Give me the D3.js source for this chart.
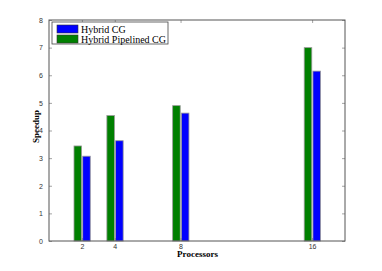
<!DOCTYPE html>
<html>
<head>
<meta charset="utf-8">
<script src="https://cdn.jsdelivr.net/npm/d3@7"></script>
<style>
  body { margin: 0; background: #fff; }
  svg { display: block; }
</style>
</head>
<body>
<div id="graph"></div>
<script>
// data
var processors = [2, 4, 8, 16]
var pipelined = [3.44, 4.54, 4.90, 7.0]
var hybrid = [3.07, 3.63, 4.63, 6.15]
var yTicks = [0, 1, 2, 3, 4, 5, 6, 7, 8]

var width = 382, height = 271
var margin = {top: 20, right: 37, bottom: 30, left: 49}

var svg = d3.select('#graph').append('svg')
  .attr('width', width).attr('height', height)

var x = d3.scaleLinear().domain([0, 18]).range([margin.left, width - margin.right])
var y = d3.scaleLinear().domain([0, 8]).range([height - margin.bottom, margin.top])

var barW = 0.46

// green (pipelined) left of tick, blue (hybrid) right
svg.append('g').selectAll('rect')
  .data(processors.map((p, i) => ({p, v: pipelined[i]})))
  .join('rect')
  .attr('x', d => x(d.p - 0.48))
  .attr('width', d => x(d.p - 0.48 + barW) - x(d.p - 0.48))
  .attr('y', d => y(d.v))
  .attr('height', d => y(0) - y(d.v))
  .attr('fill', '#008000')
  .attr('stroke', '#999').attr('stroke-width', 0.8)

svg.append('g').selectAll('rect')
  .data(processors.map((p, i) => ({p, v: hybrid[i]})))
  .join('rect')
  .attr('x', d => x(d.p + 0.05))
  .attr('width', d => x(d.p + 0.05 + barW) - x(d.p + 0.05))
  .attr('y', d => y(d.v))
  .attr('height', d => y(0) - y(d.v))
  .attr('fill', '#0000ff')
  .attr('stroke', '#999').attr('stroke-width', 0.8)

// axes, ticks pointing inward on all sides
var tickFont = g => g.selectAll('text')
  .attr('font-family', 'Helvetica, Arial, "Liberation Sans", sans-serif')
  .attr('font-size', 7).attr('fill', '#333')

var x0 = x.range()[0], x1 = x.range()[1], y0 = y.range()[0], y1 = y.range()[1]

svg.append('g').attr('transform', `translate(0,${y0})`)
  .call(d3.axisBottom(x).tickValues(processors).tickFormat(d3.format('d')).tickSizeInner(-3).tickSizeOuter(0).tickPadding(3))
  .call(tickFont).call(g => g.select('.domain').remove())

svg.append('g').attr('transform', `translate(0,${y1})`)
  .call(d3.axisTop(x).tickValues(processors).tickFormat('').tickSizeInner(-3).tickSizeOuter(0))
  .call(g => g.select('.domain').remove())

svg.append('g').attr('transform', `translate(${x0},0)`)
  .call(d3.axisLeft(y).tickValues(yTicks).tickFormat(d3.format('d')).tickSizeInner(-3).tickSizeOuter(0).tickPadding(6))
  .call(tickFont).call(g => g.select('.domain').remove())

svg.append('g').attr('transform', `translate(${x1},0)`)
  .call(d3.axisRight(y).tickValues(yTicks).tickFormat('').tickSizeInner(-3).tickSizeOuter(0))
  .call(g => g.select('.domain').remove())

svg.selectAll('.tick line').attr('stroke', '#666').attr('stroke-width', 0.6)

svg.append('rect')
  .attr('x', x0).attr('y', y1).attr('width', x1 - x0).attr('height', y0 - y1)
  .attr('fill', 'none').attr('stroke', '#555').attr('stroke-width', 1)

// axis labels
svg.append('text')
  .attr('x', (x0 + x1) / 2 + 0.5).attr('y', 256.5)
  .attr('text-anchor', 'middle')
  .attr('font-family', '"Liberation Serif", "Times New Roman", serif')
  .attr('font-weight', 'bold').attr('font-size', 9)
  .text('Processors')

svg.append('text')
  .attr('transform', `translate(39,${(y0 + y1) / 2 - 4}) rotate(-90)`)
  .attr('text-anchor', 'middle')
  .attr('font-family', '"Liberation Serif", "Times New Roman", serif')
  .attr('font-weight', 'bold').attr('font-size', 9)
  .text('Speedup')

// legend
var legend = svg.append('g').attr('transform', 'translate(52,22)')
legend.append('rect')
  .attr('width', 116).attr('height', 22)
  .attr('fill', '#fff').attr('stroke', '#444').attr('stroke-width', 0.8)

var items = [
  {label: 'Hybrid CG', color: '#0000ff'},
  {label: 'Hybrid Pipelined CG', color: '#008000'}
]
var li = legend.selectAll('g.item').data(items).join('g')
  .attr('transform', (d, i) => `translate(5,${3 + i * 10})`)
li.append('rect')
  .attr('width', 21).attr('height', 8)
  .attr('fill', d => d.color).attr('stroke', '#333').attr('stroke-width', 0.6)
li.append('text')
  .attr('x', 24).attr('y', 7.5)
  .attr('font-family', '"Liberation Serif", "Times New Roman", serif')
  .attr('font-size', 10)
  .text(d => d.label)
</script>
</body>
</html>
